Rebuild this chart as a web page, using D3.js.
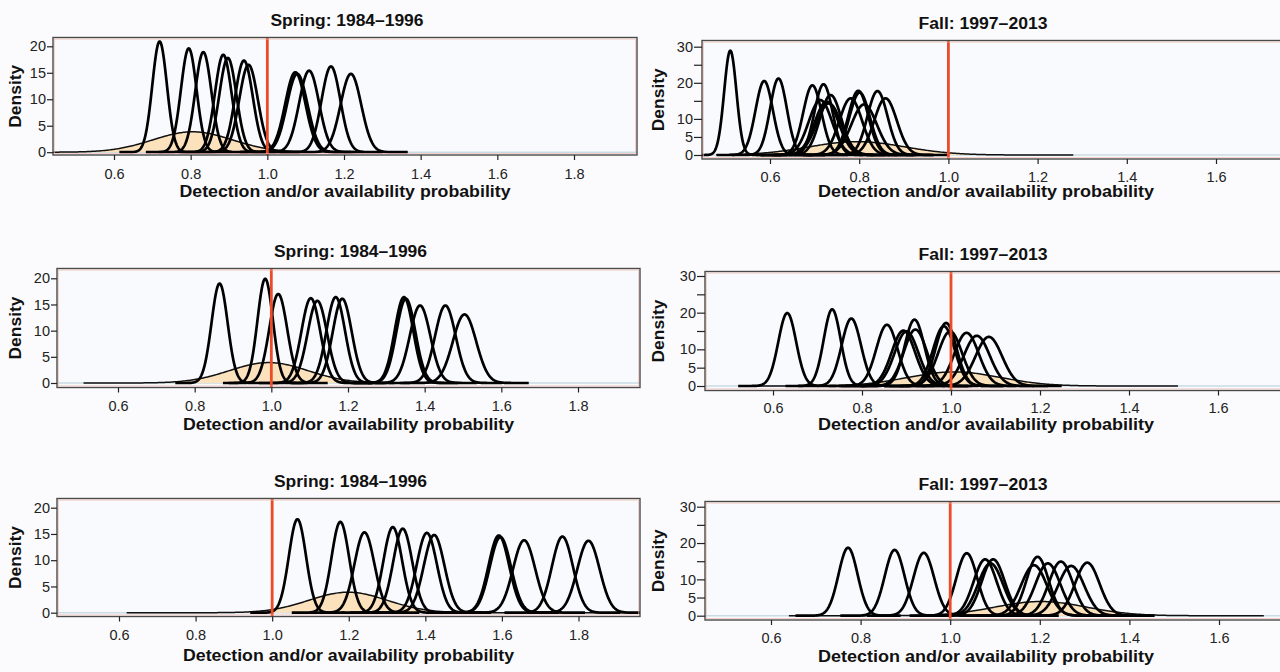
<!DOCTYPE html>
<html><head><meta charset="utf-8">
<script src="https://cdn.jsdelivr.net/npm/d3@7"></script>
<style>
body{margin:0;background:#fbfbfd;}
svg{display:block;font-family:"Liberation Sans",Arial,Helvetica,sans-serif;}
</style>
</head><body><svg id="c" width="1280" height="672"></svg>
<script>
// ---------------- data ----------------
const springTitle = "Spring: 1984–1996";
const fallTitle = "Fall: 1997–2013";
const xLabelText = "Detection and/or availability probability";
const yLabelText = "Density";
const xTicksSpring = [0.6, 0.8, 1.0, 1.2, 1.4, 1.6, 1.8];
const xTicksFall = [0.6, 0.8, 1.0, 1.2, 1.4, 1.6, 1.8];
const yTicksSpring = [0, 5, 10, 15, 20];
const yTicksFall = [0, 5, 10, 15, 20, 25, 30];
const yTickLabelsFall = [0, 5, 10, 20, 30];
const referenceValue = 1.0;

// posterior peaks: location (probability) and peak density
const spring1Means = [0.719, 0.795, 0.833, 0.885, 0.897, 0.939, 0.951, 1.073, 1.078, 1.109, 1.166, 1.218];
const spring1Peaks = [20.9, 19.6, 18.9, 18.4, 17.8, 17.3, 16.5, 15.1, 14.8, 15.4, 16.2, 14.8];
const fall1Means = [0.511, 0.587, 0.619, 0.695, 0.720, 0.713, 0.727, 0.732, 0.736, 0.781, 0.798, 0.801, 0.811, 0.841, 0.859];
const fall1Peaks = [28.9, 20.5, 21.2, 19.3, 19.6, 15.2, 14.8, 14.3, 16.6, 15.7, 17.8, 17.3, 14.0, 17.7, 15.7];
const spring2Means = [0.865, 0.984, 1.018, 1.103, 1.120, 1.168, 1.185, 1.346, 1.351, 1.388, 1.454, 1.504];
const spring2Peaks = [19.0, 19.9, 17.0, 16.2, 15.7, 16.4, 16.1, 16.4, 16.1, 14.8, 14.8, 13.1];
const fall2Means = [0.632, 0.733, 0.776, 0.856, 0.893, 0.900, 0.918, 0.920, 0.984, 0.989, 0.998, 1.035, 1.058, 1.085];
const fall2Peaks = [19.9, 20.9, 18.4, 16.7, 15.1, 14.9, 18.1, 15.4, 16.3, 17.2, 14.9, 14.5, 13.7, 13.4];
const spring3Means = [1.066, 1.178, 1.241, 1.315, 1.341, 1.404, 1.423, 1.592, 1.596, 1.658, 1.758, 1.826];
const spring3Peaks = [17.8, 17.3, 15.3, 16.3, 16.0, 15.2, 14.8, 14.7, 14.4, 13.8, 14.5, 13.7];
const fall3Means = [0.772, 0.876, 0.941, 1.037, 1.078, 1.096, 1.090, 1.195, 1.187, 1.218, 1.247, 1.270, 1.306];
const fall3Peaks = [18.7, 18.1, 17.3, 17.2, 15.5, 15.5, 14.4, 16.2, 13.9, 14.4, 14.9, 13.7, 14.6];

// community-level (shaded) distribution per panel: spring1, fall1, spring2, fall2, spring3, fall3
const sharedMeans = [0.805, 0.795, 0.993, 1.007, 1.198, 1.202];
const sharedPeaks = [3.85, 3.7, 3.9, 3.85, 3.9, 3.9];
const sharedLow = [0.40, 0.48, 0.51, 0.53, 0.62, 0.64];
const sharedHigh = [1.33, 1.28, 1.64, 1.51, 2.00, 1.70];

// ---------------- layout ----------------
const svg = d3.select("#c");
const panels = [
  {title: springTitle, means: spring1Means, peaks: spring1Peaks, k: 0, side: "L",
   box: [53, 37.5, 637, 155], xr: [114, 574], yr: [152.2, 46.3], lab: 41.5},
  {title: fallTitle, means: fall1Means, peaks: fall1Peaks, k: 1, side: "R",
   box: [702, 40.5, 1310, 159], xr: [770, 1216], yr: [155, 46.7], lab: 38},
  {title: springTitle, means: spring2Means, peaks: spring2Peaks, k: 2, side: "L",
   box: [57, 268.5, 640, 387.5], xr: [118, 578], yr: [383, 278.3], lab: 42.5},
  {title: fallTitle, means: fall2Means, peaks: fall2Peaks, k: 3, side: "R",
   box: [705, 271.5, 1310, 390.5], xr: [773, 1218], yr: [386, 276], lab: 39.5},
  {title: springTitle, means: spring3Means, peaks: spring3Peaks, k: 4, side: "L",
   box: [57, 498.5, 640, 616.5], xr: [119, 578.5], yr: [612.7, 507.7], lab: 44.5},
  {title: fallTitle, means: fall3Means, peaks: fall3Peaks, k: 5, side: "R",
   box: [705, 501.5, 1310, 620], xr: [771, 1219], yr: [615.7, 506.7], lab: 42}
];

const SQ2PI = Math.sqrt(2 * Math.PI);
function curvePoints(m, h, lo, hi) {
  const sd = 1 / (h * SQ2PI);
  const n = 300, pts = [];
  for (let i = 0; i <= n; i++) {
    const x = lo + (hi - lo) * i / n;
    pts.push([x, h * Math.exp(-0.5 * ((x - m) / sd) ** 2)]);
  }
  return pts;
}

panels.forEach((p, i) => {
  const [bl, bt, br, bb] = p.box;
  const isL = p.side === "L";
  const x = d3.scaleLinear().domain(isL ? [0.6, 1.8] : [0.6, 1.6]).range(p.xr);
  const y = d3.scaleLinear().domain(isL ? [0, 20] : [0, 30]).range(p.yr);
  const g = svg.append("g");
  const clipId = "clip" + i;
  g.append("clipPath").attr("id", clipId).append("rect")
    .attr("x", bl).attr("y", bt).attr("width", br - bl).attr("height", bb - bt);

  g.append("rect").attr("x", bl).attr("y", bt).attr("width", br - bl).attr("height", bb - bt)
    .attr("fill", "#f9fafe");

  const plot = g.append("g").attr("clip-path", `url(#${clipId})`);
  plot.append("line").attr("x1", bl).attr("x2", br).attr("y1", y(0)).attr("y2", y(0))
    .attr("stroke", "#c9dbe4").attr("stroke-width", 1.5);

  const line = d3.line().x(d => x(d[0])).y(d => y(d[1]));
  const area = d3.area().x(d => x(d[0])).y0(y(0)).y1(d => y(d[1]));

  const sp = curvePoints(sharedMeans[p.k], sharedPeaks[p.k], sharedLow[p.k], sharedHigh[p.k]);
  plot.append("path").attr("d", area(sp)).attr("fill", "#fbe2bd").attr("stroke", "none");
  plot.append("path").attr("d", line(sp)).attr("fill", "none").attr("stroke", "#111").attr("stroke-width", 1.5);

  p.means.forEach((m, j) => {
    const h = p.peaks[j];
    const sd = 1 / (h * SQ2PI);
    const pts = curvePoints(m, h, m - 5.5 * sd, m + 5.5 * sd);
    plot.append("path").attr("d", line(pts)).attr("fill", "none")
      .attr("stroke", "#000").attr("stroke-width", 2.7).attr("stroke-linejoin", "round");
  });

  plot.append("line").attr("x1", x(referenceValue)).attr("x2", x(referenceValue))
    .attr("y1", bt).attr("y2", bb).attr("stroke", "#ec4b27").attr("stroke-width", 2.8);

  g.append("rect").attr("x", bl).attr("y", bt).attr("width", br - bl).attr("height", bb - bt)
    .attr("fill", "none").attr("stroke", "#4a4a4a").attr("stroke-width", 1.4);
  g.append("rect").attr("x", bl + 1.6).attr("y", bt + 1.6).attr("width", br - bl - 3.2).attr("height", bb - bt - 3.2)
    .attr("fill", "none").attr("stroke", "#f2b6a8").attr("stroke-width", 0.6);

  // x axis
  const xt = (isL ? xTicksSpring : xTicksFall).filter(v => x(v) <= 1280);
  const xa = g.append("g").attr("transform", `translate(0,${bb})`)
    .call(d3.axisBottom(x).tickValues(xt).tickFormat(d3.format(".1f")).tickSize(5).tickPadding(isL ? 8.5 : 7.5));
  xa.select(".domain").remove();
  xa.selectAll("line").attr("stroke", "#222").attr("stroke-width", 1.2);
  xa.selectAll("text").attr("font-size", 14.5).attr("fill", "#222");

  // y axis
  const yt = isL ? yTicksSpring : yTicksFall;
  const labelSet = isL ? yTicksSpring : yTickLabelsFall;
  const ya = g.append("g").attr("transform", `translate(${bl},0)`)
    .call(d3.axisLeft(y).tickValues(yt).tickSize(isL ? 6 : 8).tickPadding(1)
      .tickFormat(v => labelSet.includes(v) ? String(v) : ""));
  ya.select(".domain").remove();
  ya.selectAll("line").attr("stroke", "#222").attr("stroke-width", 1.2);
  ya.selectAll("text").attr("font-size", 14.5).attr("fill", "#222");

  // titles and labels
  const cx = isL ? (bl + br) / 2 + 2 : 983;
  svg.append("text").attr("x", cx).attr("y", bt - (isL ? 12 : 11.5)).attr("text-anchor", "middle")
    .attr("font-size", 16).attr("font-weight", "bold").attr("fill", "#111")
    .attr("textLength", isL ? 153 : 129).attr("lengthAdjust", "spacingAndGlyphs").text(p.title);
  svg.append("text").attr("x", isL ? (bl + br) / 2 : 986).attr("y", bb + p.lab).attr("text-anchor", "middle")
    .attr("font-size", 16).attr("font-weight", "bold").attr("fill", "#111")
    .attr("textLength", isL ? 331 : 336).attr("lengthAdjust", "spacingAndGlyphs").text(xLabelText);
  const ly = (bt + bb) / 2;
  const lx = isL ? 20.5 : 664;
  svg.append("text").attr("transform", `translate(${lx},${ly}) rotate(-90)`).attr("text-anchor", "middle")
    .attr("font-size", 16).attr("font-weight", "bold").attr("fill", "#111")
    .attr("textLength", 63).attr("lengthAdjust", "spacingAndGlyphs").text(yLabelText);
});
</script>
</body></html>
